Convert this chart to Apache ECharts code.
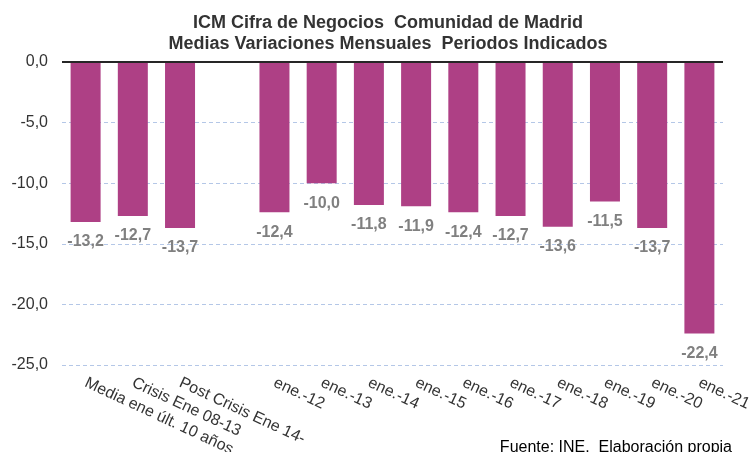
<!DOCTYPE html>
<html><head><meta charset="utf-8">
<script src="https://cdn.jsdelivr.net/npm/echarts@6/dist/echarts.min.js"></script>
<style>html,body{margin:0;padding:0;background:#fff}#c{width:749px;height:452px}</style>
</head><body><div id="c"></div>
<script>
var categories = ["Media ene últ. 10 años","Crisis Ene 08-13","Post Crisis Ene 14-","","ene.-12","ene.-13","ene.-14","ene.-15","ene.-16","ene.-17","ene.-18","ene.-19","ene.-20","ene.-21"];
var values = [-13.2,-12.7,-13.7,null,-12.4,-10.0,-11.8,-11.9,-12.4,-12.7,-13.6,-11.5,-13.7,-22.4];
var titleLines = ["ICM Cifra de Negocios  Comunidad de Madrid","Medias Variaciones Mensuales  Periodos Indicados"];
var sourceText = "Fuente: INE.  Elaboración propia";
var fmt = function(v){ return v.toFixed(1).replace('.', ','); };
var chart = echarts.init(document.getElementById('c'));
chart.setOption({
  animation:false,
  title:[{text:titleLines.join('\n'),left:383,textAlign:'center',top:8,textStyle:{fontFamily:'Liberation Sans',fontSize:18,fontWeight:'bold',color:'#333',lineHeight:21}},
         {text:sourceText,right:12,bottom:-9,textStyle:{fontFamily:'Liberation Sans',fontSize:16,fontWeight:'normal',color:'#000'}}],
  grid:{left:62,right:26,top:62,bottom:87,containLabel:false,outerBoundsMode:'none'},
  xAxis:{type:'category',data:categories,axisLine:{show:false,onZero:false},axisTick:{show:false},
    axisLabel:{interval:0,rotate:-25,fontFamily:'Liberation Sans',fontSize:16,color:'#333',margin:17,hideOverlap:false}},
  yAxis:{type:'value',min:-25,max:0,interval:5,axisLine:{show:false},axisTick:{show:false},
    axisLabel:{formatter:fmt,fontFamily:'Liberation Sans',fontSize:16,color:'#333',margin:14},
    splitLine:{lineStyle:{color:'#B4C7E7',type:[4,3],width:1}}},
  series:[{type:'bar',data:values,barWidth:30,itemStyle:{color:'#AE4085'},
    label:{show:true,position:'bottom',distance:12,formatter:function(p){return fmt(p.value);},fontFamily:'Liberation Sans',fontSize:16,fontWeight:'bold',color:'#808080'},
    markLine:{silent:true,symbol:'none',label:{show:false},lineStyle:{color:'#262626',type:'solid',width:2},data:[{yAxis:0}]}}]
});
</script></body></html>
